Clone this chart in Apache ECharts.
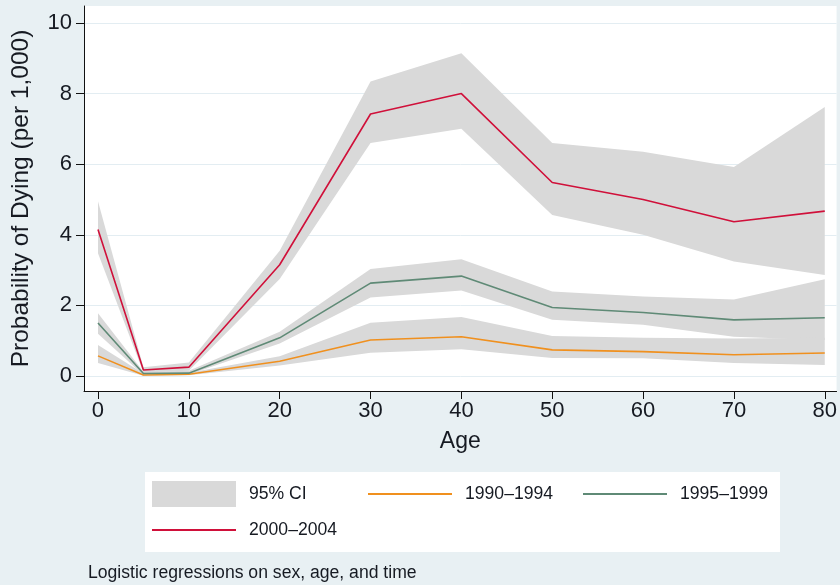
<!DOCTYPE html>
<html>
<head>
<meta charset="utf-8">
<script src="https://cdn.jsdelivr.net/npm/echarts@6/dist/echarts.min.js"></script>
<style>
  html, body { margin: 0; padding: 0; background: #e8f0f3; }
  #chart { width: 840px; height: 585px; }
</style>
</head>
<body>
<div id="chart"></div>
<script>
// Age groups (years)
const ages = [0, 5, 10, 20, 30, 40, 50, 60, 70, 80];
const yTicks = [0, 2, 4, 6, 8, 10];
const xTicks = [0, 10, 20, 30, 40, 50, 60, 70, 80];

// Predicted probability of dying per 1,000, with 95% confidence limits
const p1990 = [0.57, 0.03, 0.05, 0.42, 1.02, 1.11, 0.74, 0.69, 0.60, 0.65];
const lo1990 = [0.37, 0.01, 0.02, 0.30, 0.66, 0.76, 0.51, 0.50, 0.37, 0.31];
const hi1990 = [0.88, 0.07, 0.09, 0.56, 1.51, 1.67, 1.13, 1.08, 1.06, 1.08];

const p1995 = [1.50, 0.07, 0.08, 1.08, 2.63, 2.83, 1.94, 1.80, 1.59, 1.65];
const lo1995 = [1.20, 0.03, 0.04, 0.92, 2.22, 2.42, 1.59, 1.45, 1.11, 1.02];
const hi1995 = [1.78, 0.12, 0.15, 1.25, 3.03, 3.31, 2.39, 2.25, 2.17, 2.74];

const p2000 = [4.15, 0.17, 0.25, 3.15, 7.42, 8.00, 5.48, 5.00, 4.37, 4.67];
const lo2000 = [3.48, 0.10, 0.15, 2.75, 6.60, 7.00, 4.56, 4.00, 3.24, 2.86];
const hi2000 = [4.95, 0.25, 0.38, 3.55, 8.34, 9.14, 6.60, 6.35, 5.92, 7.62];

const seriesNames = ['1990\u20131994', '1995\u20131999', '2000\u20132004'];
const ciName = '95% CI';

const FONT = "'Liberation Sans', Arial, Helvetica, sans-serif";
const TEXT = '#161a22';
const BAND = '#d9d9d9';
const colors = ['#f0901e', '#5f8a76', '#d0103a'];

const bands = [
  { lo: lo2000, hi: hi2000 },
  { lo: lo1995, hi: hi1995 },
  { lo: lo1990, hi: hi1990 }
];

function pairs(ys) { return ages.map((a, i) => [a, ys[i]]); }

const chart = echarts.init(document.getElementById('chart'), null, { renderer: 'canvas' });

const legendText = { fontFamily: FONT, fontSize: 17.6, color: TEXT, padding: [0, 0, 0, 8] };

function lineLegend(name, left, top) {
  return {
    data: [name],
    left: left, top: top, padding: 0,
    orient: 'horizontal',
    itemWidth: 84, itemHeight: 26,
    icon: 'path://M0,0 L84,0 L84,2 L0,2 Z',
    itemStyle: { borderWidth: 0 },
    textStyle: legendText
  };
}

const option = {
  backgroundColor: '#e8f0f3',
  animation: false,
  title: {
    text: 'Logistic regressions on sex, age, and time',
    left: 88, top: 564, padding: 0,
    textStyle: { fontFamily: FONT, fontSize: 17.6, fontWeight: 'normal', color: TEXT }
  },
  graphic: [
    { type: 'rect', z: 0, shape: { x: 145, y: 472, width: 635, height: 80 }, style: { fill: '#ffffff' } }
  ],
  grid: {
    left: 84, right: 3, top: 6, bottom: 194,
    show: true, backgroundColor: '#ffffff', borderWidth: 0
  },
  legend: [
    {
      data: [ciName],
      left: 152, top: 481, padding: 0,
      itemWidth: 84, itemHeight: 26, icon: 'rect',
      itemStyle: { borderWidth: 0 },
      textStyle: legendText
    },
    lineLegend(seriesNames[0], 368, 485),
    lineLegend(seriesNames[1], 583, 485),
    lineLegend(seriesNames[2], 152, 521)
  ],
  xAxis: {
    type: 'value', min: -1.54, max: 81.3,
    name: 'Age', nameLocation: 'middle', nameGap: 39,
    nameTextStyle: { fontFamily: FONT, fontSize: 23, color: TEXT },
    axisLine: { show: true, onZero: false, lineStyle: { color: '#111', width: 1 } },
    axisTick: { show: true, length: 8, customValues: xTicks, lineStyle: { color: '#111' } },
    axisLabel: { customValues: xTicks, margin: 9, fontFamily: FONT, fontSize: 22, color: TEXT },
    splitLine: { show: false }
  },
  yAxis: {
    type: 'value', min: -0.425, max: 10.48,
    name: 'Probability of Dying (per 1,000)', nameLocation: 'middle', nameGap: 50, nameRotate: 90,
    nameTextStyle: { fontFamily: FONT, fontSize: 24.5, color: TEXT },
    axisLine: { show: true, onZero: false, lineStyle: { color: '#111', width: 1 } },
    axisTick: { show: true, length: 8, customValues: yTicks, lineStyle: { color: '#111' } },
    axisLabel: { customValues: yTicks, margin: 12, fontFamily: FONT, fontSize: 22, color: TEXT },
    splitLine: { show: true, lineStyle: { color: '#e3edf2', width: 1 } }
  },
  series: [
    {
      name: ciName,
      type: 'custom',
      z: 1,
      itemStyle: { color: BAND },
      data: bands.map(() => [0, 0]),
      clip: true,
      silent: true,
      renderItem: function (params, api) {
        const b = bands[params.dataIndex];
        const pts = [];
        for (let i = 0; i < ages.length; i++) pts.push(api.coord([ages[i], b.hi[i]]));
        for (let i = ages.length - 1; i >= 0; i--) pts.push(api.coord([ages[i], b.lo[i]]));
        return { type: 'polygon', shape: { points: pts }, style: { fill: BAND } };
      }
    },
    {
      name: seriesNames[0], type: 'line', z: 3, data: pairs(p1990),
      symbol: 'none', color: colors[0], lineStyle: { width: 1.6, color: colors[0] }
    },
    {
      name: seriesNames[1], type: 'line', z: 3, data: pairs(p1995),
      symbol: 'none', color: colors[1], lineStyle: { width: 1.6, color: colors[1] }
    },
    {
      name: seriesNames[2], type: 'line', z: 3, data: pairs(p2000),
      symbol: 'none', color: colors[2], lineStyle: { width: 1.6, color: colors[2] }
    }
  ]
};

chart.setOption(option);
</script>
</body>
</html>
